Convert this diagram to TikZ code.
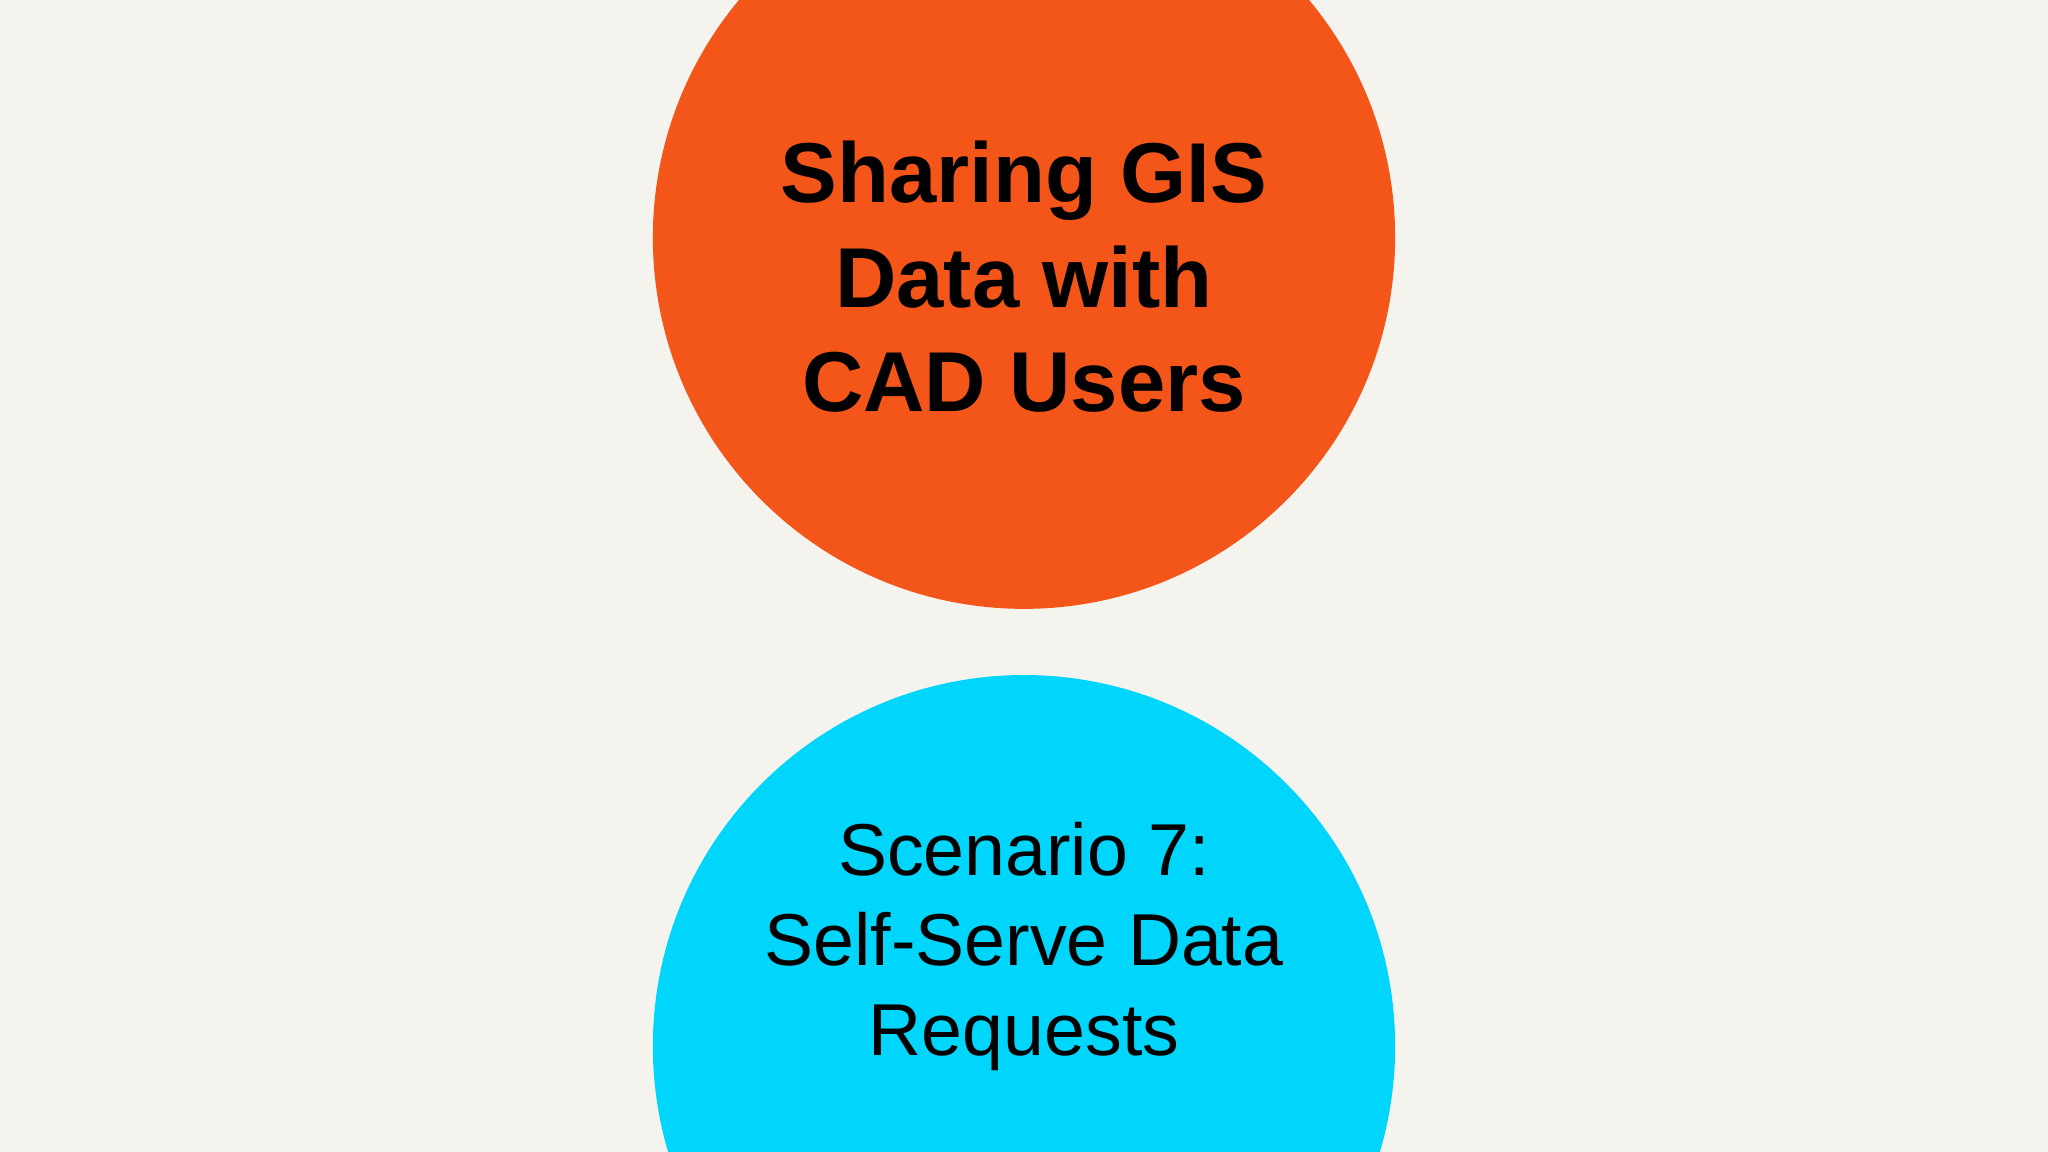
\documentclass[tikz,border=0pt]{standalone}
\usepackage{fontspec}
\setmainfont{Liberation Sans}
\definecolor{bg}{HTML}{F4F3EE}
\definecolor{orng}{HTML}{F45518}
\definecolor{cyanb}{HTML}{00D5FB}
\begin{document}
\begin{tikzpicture}[x=0.01cm,y=-0.01cm,
  circ/.style={circle,minimum size=5.68cm,inner sep=0pt},
  lbl/.style={align=center,text=black}]
\useasboundingbox (0,0) rectangle (1568,882);
\fill[bg] (0,0) rectangle (1568,882);
\begin{scope}
\clip (0,0) rectangle (1568,882);
\node[circ,fill=orng] (top) at (784,182) {};
\node[circ,fill=cyanb] (bot) at (784,801) {};
\end{scope}
\node[lbl,font=\bfseries\fontsize{18.5}{22.8}\selectfont] (t1) at (784,212) {Sharing GIS\\Data with\\CAD Users};
\node[lbl,font=\fontsize{16}{19.6}\selectfont] (t2) at (784,725) {Scenario 7:\\Self-Serve Data\\Requests};
\end{tikzpicture}
\end{document}
